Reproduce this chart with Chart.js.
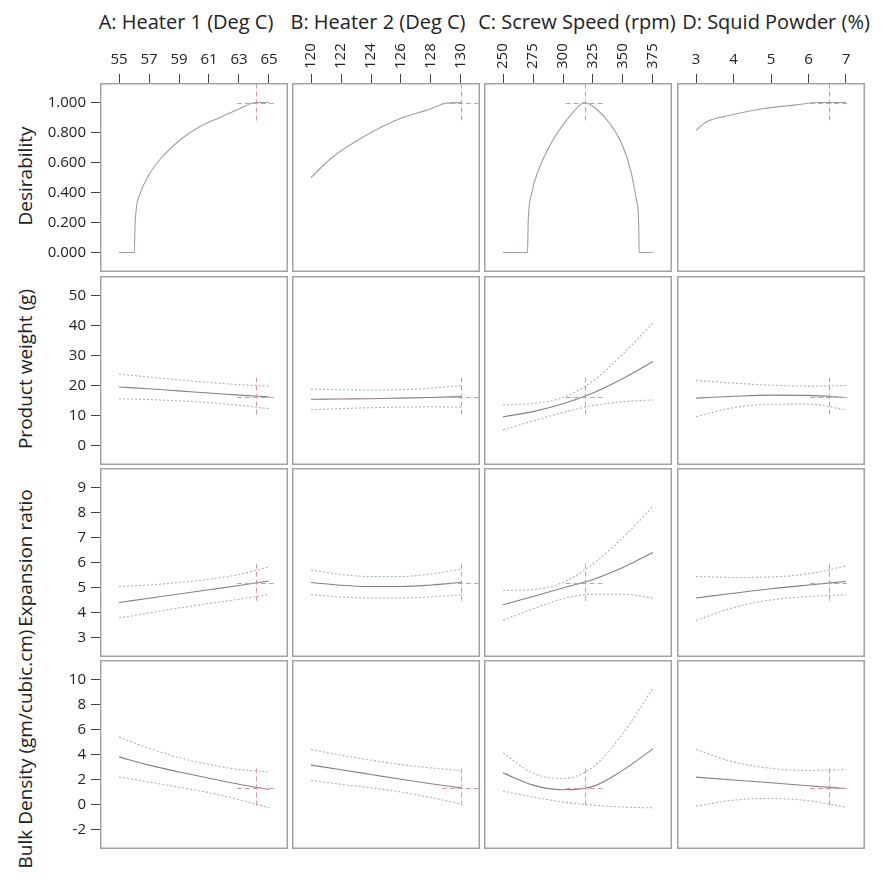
<!DOCTYPE html>
<html>
<head>
<meta charset="utf-8">
<script src="https://cdn.jsdelivr.net/npm/chart.js@4.4.1/dist/chart.umd.min.js"></script>
<style>
  body { margin: 0; background: #fff; font-family: 'Open Sans', sans-serif; color: #222; }
  #wrap { position: relative; width: 887px; height: 879px; overflow: hidden; }
  canvas { position: absolute; }
  .title { position: absolute; top: 9px; font-size: 20px; line-height: 26px; white-space: nowrap; transform: translateX(-50%); }
  .rowlabel { position: absolute; font-size: 19px; line-height: 22px; white-space: nowrap; transform: translate(-50%, -50%) rotate(-90deg); }
</style>
</head>
<body>
<div id="wrap"></div>
<script>
// columns = factors, rows = responses
const factorNames = ['A: Heater 1 (Deg C)', 'B: Heater 2 (Deg C)', 'C: Screw Speed (rpm)', 'D: Squid Powder (%)'];
const responseNames = ['Desirability', 'Product weight (g)', 'Expansion ratio', 'Bulk Density (gm/cubic.cm)'];

// factor levels (also the top tick labels)
const heater1 = [55, 57, 59, 61, 63, 65];
const heater2 = [120, 122, 124, 126, 128, 130];
const screwSpeed = [250, 275, 300, 325, 350, 375];
const squidPowder = [3, 4, 5, 6, 7];
const factorLevels = [heater1, heater2, screwSpeed, squidPowder];

// left tick labels per response
const desirTicks = [0, 0.2, 0.4, 0.6, 0.8, 1.0];
const weightTicks = [0, 10, 20, 30, 40, 50];
const expansionTicks = [3, 4, 5, 6, 7, 8, 9];
const densityTicks = [-2, 0, 2, 4, 6, 8, 10];
const yTicks = [desirTicks, weightTicks, expansionTicks, densityTicks];

// optimum found by the profiler
const optimumSetting = [64.13, 130, 318, 6.55];
const optimumResponse = [1.0, 16.3, 5.19, 1.36];

// desirability traces, [factor value, desirability]
const desirA = [[55, 0], [56.02, 0], [56.07, 0.19], [56.4, 0.39], [56.95, 0.51], [57.73, 0.62], [59.07, 0.75], [60.4, 0.84], [61.73, 0.9], [63.07, 0.96], [64.13, 1.0], [65, 1.0]];
const desirB = [[120, 0.5], [121.42, 0.635], [123.65, 0.78], [125.87, 0.89], [127.9, 0.955], [129, 0.995], [130, 1.0]];
const desirC = [[250, 0], [270.4, 0], [271, 0.21], [273.7, 0.39], [280.6, 0.57], [291.6, 0.75], [302.7, 0.88], [311, 0.958], [317.9, 1.0], [327.6, 0.958], [339.2, 0.858], [350.2, 0.702], [357.1, 0.525], [361.3, 0.347], [363.2, 0.169], [363.4, 0], [375, 0]];
const desirD = [[3, 0.815], [3.26, 0.869], [3.88, 0.913], [4.77, 0.958], [5.66, 0.984], [6.28, 1.0], [7, 1.0]];
const desirability = [desirA, desirB, desirC, desirD];

// predicted response and its interval at each factor level (A, B, C, D)
const weightMean = [[19.5, 18.9, 18.2, 17.5, 16.8, 16.2], [15.4, 15.5, 15.6, 15.8, 16.0, 16.3], [9.6, 11.3, 13.9, 17.5, 22.3, 28.0], [15.8, 16.4, 16.8, 16.7, 16.0]];
const weightHigh = [[23.8, 22.8, 21.9, 21.0, 20.3, 19.8], [18.8, 18.6, 18.5, 18.6, 19.1, 20.0], [13.6, 14.0, 16.0, 21.5, 30.5, 40.8], [21.7, 20.8, 20.1, 19.8, 20.0]];
const weightLow = [[15.6, 15.3, 14.9, 14.3, 13.4, 12.3], [11.9, 12.3, 12.6, 12.8, 12.9, 12.8], [5.2, 8.2, 11.0, 13.3, 14.6, 15.2], [9.6, 12.6, 13.7, 13.8, 11.9]];

const expansionMean = [[4.40, 4.57, 4.74, 4.91, 5.08, 5.26], [5.20, 5.09, 5.04, 5.04, 5.10, 5.20], [4.31, 4.64, 4.98, 5.32, 5.80, 6.40], [4.58, 4.77, 4.95, 5.10, 5.24]];
const expansionHigh = [[5.04, 5.10, 5.20, 5.33, 5.52, 5.83], [5.70, 5.52, 5.44, 5.44, 5.54, 5.73], [4.88, 4.92, 5.20, 5.95, 7.0, 8.24], [5.44, 5.40, 5.42, 5.55, 5.86]];
const expansionLow = [[3.78, 3.98, 4.18, 4.36, 4.53, 4.72], [4.71, 4.62, 4.58, 4.58, 4.63, 4.71], [3.69, 4.15, 4.55, 4.73, 4.73, 4.58], [3.68, 4.20, 4.50, 4.64, 4.71]];

const densityMean = [[3.81, 3.15, 2.60, 2.10, 1.62, 1.20], [3.15, 2.78, 2.40, 2.02, 1.66, 1.33], [2.53, 1.55, 1.18, 1.45, 2.75, 4.45], [2.19, 1.96, 1.74, 1.50, 1.28]];
const densityHigh = [[5.39, 4.50, 3.75, 3.20, 2.80, 2.61], [4.40, 3.95, 3.55, 3.20, 2.93, 2.72], [4.13, 2.50, 2.08, 3.0, 5.7, 9.3], [4.40, 3.40, 2.90, 2.72, 2.80]];
const densityLow = [[2.21, 1.80, 1.38, 0.95, 0.40, -0.27], [1.92, 1.62, 1.33, 1.00, 0.55, 0.05], [1.07, 0.60, 0.20, -0.05, -0.20, -0.27], [-0.13, 0.35, 0.48, 0.30, -0.21]];

const responseMean = [null, weightMean, expansionMean, densityMean];
const responseHigh = [null, weightHigh, expansionHigh, densityHigh];
const responseLow = [null, weightLow, expansionLow, densityLow];

// layout
const panelLeft = [100, 292, 484, 677];
const panelTop = [83, 276, 468, 660];
const panelW = 188, panelH = 189;
const titleCenter = [186, 378, 577, 776];
const rowLabelCenter = [176, 369, 558, 749];
const tickFont = { family: "'Open Sans', sans-serif", size: 15, lineHeight: 1.2 };

const wrap = document.getElementById('wrap');

factorNames.forEach((name, c) => {
    const d = document.createElement('div');
    d.className = 'title';
    d.textContent = name;
    d.style.left = titleCenter[c] + 'px';
    wrap.appendChild(d);
});
responseNames.forEach((name, r) => {
    const d = document.createElement('div');
    d.className = 'rowlabel';
    d.textContent = name;
    d.style.left = '25px';
    d.style.top = rowLabelCenter[r] + 'px';
    wrap.appendChild(d);
});

// frame round every panel + the optimum crosshair
const panelPlugin = {
    id: 'panel',
    afterDatasetsDraw(chart) {
        const { ctx, chartArea: a } = chart;
        const { c, r } = chart.options.plugins.panel;
        const px = chart.scales.x.getPixelForValue(optimumSetting[c]);
        const py = chart.scales.y.getPixelForValue(optimumResponse[r]);
        ctx.save();
        ctx.beginPath();
        ctx.rect(a.left, a.top, a.width, a.height);
        ctx.clip();
        ctx.strokeStyle = '#d59a9e';
        ctx.lineWidth = 1;
        ctx.setLineDash([5, 3]);
        ctx.beginPath();
        ctx.moveTo(px - 19, Math.round(py) + 0.5);
        ctx.lineTo(px + 19, Math.round(py) + 0.5);
        ctx.moveTo(Math.round(px) + 0.5, py - 19);
        ctx.lineTo(Math.round(px) + 0.5, py + 19);
        ctx.stroke();
        ctx.restore();

        ctx.save();
        ctx.strokeStyle = '#a3a3a3';
        ctx.lineWidth = 1.5;
        ctx.strokeRect(a.left + 0.75, a.top + 0.75, a.width - 1.5, a.height - 1.5);
        ctx.restore();
    }
};

const lineSet = (pts, color, dash) => ({
    data: pts,
    borderColor: color,
    borderWidth: 1.1,
    borderDash: dash,
    pointRadius: 0,
    cubicInterpolationMode: 'monotone',
    fill: false
});

const noPadding = s => {
    s.paddingLeft = 0;
    s.paddingRight = 0;
    s.paddingTop = 0;
    s.paddingBottom = 0;
};

for (let r = 0; r < 4; r++) {
    for (let c = 0; c < 4; c++) {
        const levels = factorLevels[c];
        const xs = levels[levels.length - 1] - levels[0];
        const yt = yTicks[r];
        const ys = yt[yt.length - 1] - yt[0];
        const xPad = xs * 0.127, yPad = ys * 0.13;
        const showX = r === 0, showY = c === 0;

        let datasets;
        if (r === 0) {
            datasets = [lineSet(desirability[c].map(p => ({ x: p[0], y: p[1] })), '#a49ca2', [])];
        } else {
            const toPts = arr => arr[c].map((v, i) => ({ x: levels[i], y: v }));
            datasets = [
                lineSet(toPts(responseHigh[r]), '#a9b2bd', [2, 2]),
                lineSet(toPts(responseLow[r]), '#a9b2bd', [2, 2]),
                lineSet(toPts(responseMean[r]), '#8a7f86', [])
            ];
        }

        const canvas = document.createElement('canvas');
        const w = panelW + (showY ? panelLeft[0] : 0);
        const h = panelH + (showX ? panelTop[0] : 0);
        canvas.width = w;
        canvas.height = h;
        canvas.style.left = (showY ? 0 : panelLeft[c]) + 'px';
        canvas.style.top = (showX ? 0 : panelTop[r]) + 'px';
        canvas.style.width = w + 'px';
        canvas.style.height = h + 'px';
        wrap.appendChild(canvas);

        const rotated = c === 1 || c === 2;
        new Chart(canvas.getContext('2d'), {
            type: 'line',
            data: { datasets },
            options: {
                responsive: false,
                animation: false,
                devicePixelRatio: 1,
                layout: { padding: 0 },
                plugins: { legend: { display: false }, tooltip: { enabled: false }, panel: { c, r } },
                scales: {
                    x: {
                        type: 'linear',
                        position: 'top',
                        display: showX,
                        min: levels[0] - xPad,
                        max: levels[levels.length - 1] + xPad,
                        afterBuildTicks: s => { s.ticks = levels.map(v => ({ value: v })); },
                        afterFit: s => { s.height = showX ? panelTop[0] : 0; noPadding(s); },
                        grid: { drawOnChartArea: false, drawTicks: true, tickLength: 9, color: '#444' },
                        border: { display: false },
                        ticks: {
                            autoSkip: false,
                            font: tickFont,
                            color: '#222',
                            padding: 5,
                            labelOffset: rotated ? 18 : 0,
                            minRotation: rotated ? 90 : 0,
                            maxRotation: rotated ? 90 : 0
                        }
                    },
                    y: {
                        type: 'linear',
                        display: showY,
                        min: yt[0] - yPad,
                        max: yt[yt.length - 1] + yPad,
                        afterBuildTicks: s => { s.ticks = yt.map(v => ({ value: v })); },
                        afterFit: s => { s.width = showY ? panelLeft[0] : 0; noPadding(s); },
                        grid: { drawOnChartArea: false, drawTicks: true, tickLength: 9, color: '#444' },
                        border: { display: false },
                        ticks: {
                            autoSkip: false,
                            font: tickFont,
                            color: '#222',
                            padding: 5,
                            callback: v => r === 0 ? v.toFixed(3) : v
                        }
                    }
                }
            },
            plugins: [panelPlugin]
        });
    }
}
</script>
</body>
</html>
